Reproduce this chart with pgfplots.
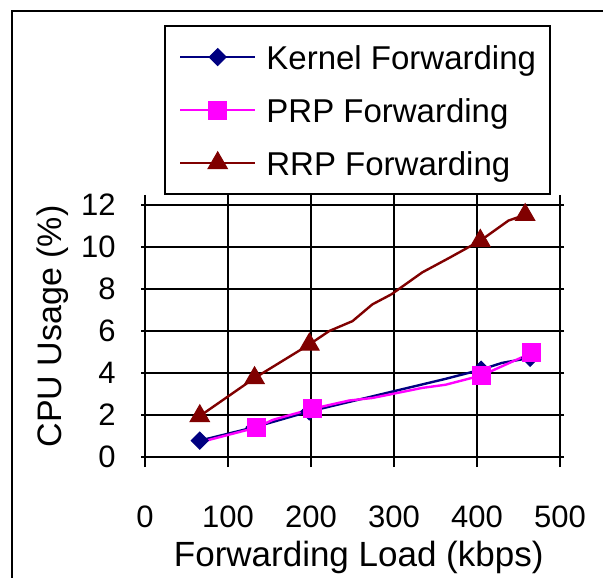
\documentclass[border=0pt]{standalone}
\usepackage{fontspec}
\setmainfont{Liberation Sans}
\usepackage{pgfplots}
\pgfplotsset{compat=1.18}
\definecolor{kernelblue}{RGB}{0,0,128}
\definecolor{prpmag}{RGB}{255,0,255}
\definecolor{rrpred}{RGB}{128,0,0}

\begin{document}
\begin{tikzpicture}
\useasboundingbox (0,0) rectangle (301.5pt,288.5pt);
\draw[line width=1pt] (6pt,-10pt) -- (6pt,283pt) -- (320pt,283pt);
\begin{axis}[
  at={(72.5pt,60pt)}, anchor=south west,
  scale only axis, width=207.5pt, height=126pt,
  xmin=0, xmax=500, ymin=0, ymax=12,
  xtick={0,100,...,500}, ytick={0,2,...,12},
  grid=major,
  grid style={black, line width=1.3pt},
  major grid style={black, line width=1.3pt},
  axis line style={line width=1.3pt},
  tick align=outside, major tick length=2pt,
  tick style={black, line width=1.3pt},
  xtick style={/pgfplots/major tick length=5pt},
  /pgf/number format/assume math mode=true,
  ticklabel style={font=\fontsize{15.5}{18}\selectfont},
  xticklabel style={anchor=base, inner sep=0pt, yshift=-33pt},
  yticklabel style={anchor=east, inner sep=0pt},
  yticklabel shift=12.5pt,
  xlabel={Forwarding Load (kbps)}, ylabel={CPU Usage (\%)},
  label style={font=\fontsize{17.5}{21}\selectfont},
  xlabel style={at={(axis description cs:0.515,-0.40)}, anchor=center},
  ylabel style={at={(axis description cs:-0.222,0.518)}, anchor=center, font=\fontsize{17}{20}\selectfont},
  legend cell align=left,
  legend image code/.code={\draw[mark indices={2}] plot coordinates {(0pt,0pt) (18.75pt,0pt) (37.5pt,0pt)};},
  legend style={at={(axis description cs:0.0458,1.714)}, anchor=north west,
    draw=black, line width=1pt, inner xsep=7pt, inner ysep=6pt,
    row sep=7.5pt, column sep=5pt,
    font=\fontsize{16.5}{19}\selectfont,
    nodes={inner sep=0pt, text height=15.5pt, text depth=3.5pt}},
]
\addplot[kernelblue, line width=1.2pt, mark=diamond*, mark size=4.25pt,
  mark options={solid, fill=kernelblue, xscale=1.33, line width=0.5pt},
  mark indices={1,2,3,5,7}]
  coordinates {(66,0.78) (132,1.42) (198,2.17) (362,3.72) (405,4.16) (430,4.48) (464,4.72)};
\addlegendentry{Kernel Forwarding}
\addplot[prpmag, line width=1.2pt, mark=square*, mark size=4.5pt,
  mark options={solid, fill=prpmag, line width=0.5pt},
  mark indices={2,4,9,10}]
  coordinates {(66,0.70) (134,1.40) (154,1.77) (202,2.30) (246,2.69) (274,2.81) (334,3.29) (362,3.44) (406,3.89) (466,4.96)};
\addlegendentry{PRP Forwarding}
\addplot[rrpred, line width=1.2pt, mark=triangle*, mark size=5.6pt,
  mark options={solid, fill=rrpred, line width=0.5pt},
  mark indices={1,2,3,10,12}]
  coordinates {(66,1.95) (132,3.76) (198,5.36) (222,6.0) (250,6.47) (274,7.27) (297,7.75) (334,8.79) (366,9.47) (404,10.3) (438,11.26) (458,11.53)};
\addlegendentry{RRP Forwarding}
\end{axis}
\end{tikzpicture}
\end{document}
